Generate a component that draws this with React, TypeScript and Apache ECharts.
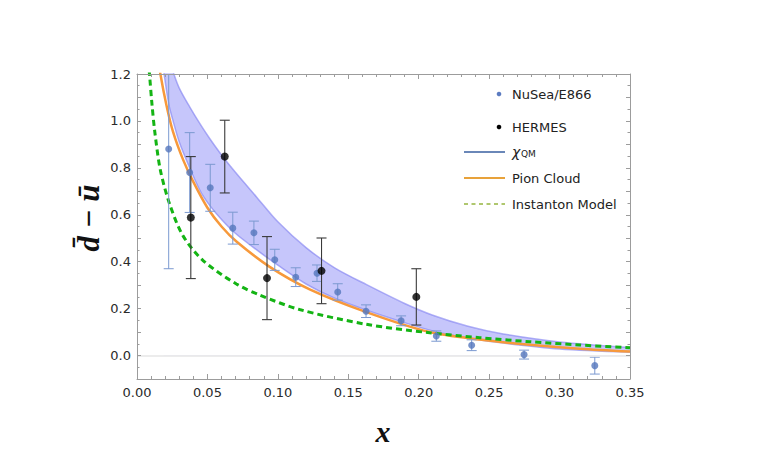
import React, { useEffect, useRef } from "react";
import * as echarts from "echarts";

// chi_QM band (lower / upper edges) on a common x grid
const bandX = [0.015, 0.019, 0.0227, 0.0256, 0.03, 0.0374, 0.045, 0.0516, 0.06, 0.07, 0.085, 0.1, 0.12, 0.14, 0.163, 0.19, 0.21, 0.235, 0.26, 0.3, 0.35];
const bandLow = [1.38, 1.209, 1.067, 1.0, 0.91, 0.8, 0.7, 0.64, 0.58, 0.52, 0.45, 0.385, 0.305, 0.245, 0.193, 0.14, 0.105, 0.075, 0.053, 0.028, 0.014];
const bandHigh = [1.5, 1.38, 1.27, 1.21, 1.14, 1.06, 0.985, 0.925, 0.855, 0.78, 0.675, 0.57, 0.46, 0.375, 0.302, 0.222, 0.172, 0.125, 0.092, 0.058, 0.034];

// Pion Cloud curve
const pionX = [0.015, 0.0166, 0.0209, 0.0256, 0.0327, 0.04, 0.05, 0.06, 0.0706, 0.0942, 0.1226, 0.1628, 0.2078, 0.2433, 0.2787, 0.3142, 0.35];
const pionY = [1.27, 1.2, 1.067, 0.953, 0.835, 0.74, 0.63, 0.55, 0.486, 0.378, 0.282, 0.185, 0.1, 0.068, 0.046, 0.029, 0.017];

// Instanton Model curve
const instX = [0.008, 0.009, 0.0105, 0.0126, 0.0166, 0.0232, 0.0327, 0.0469, 0.0706, 0.0871, 0.1154, 0.1628, 0.2078, 0.2433, 0.2787, 0.3142, 0.35];
const instY = [1.26, 1.19, 1.08, 0.955, 0.79, 0.645, 0.51, 0.405, 0.305, 0.258, 0.196, 0.133, 0.097, 0.076, 0.059, 0.045, 0.033];

// NuSea/E866 data
const e866X = [0.0225, 0.0374, 0.052, 0.068, 0.083, 0.0978, 0.1127, 0.1278, 0.1425, 0.1626, 0.1875, 0.2125, 0.2376, 0.2748, 0.325];
const e866Y = [0.88, 0.78, 0.715, 0.543, 0.523, 0.408, 0.334, 0.351, 0.271, 0.189, 0.148, 0.083, 0.044, 0.004, -0.043];
const e866Err = [0.51, 0.17, 0.1, 0.068, 0.05, 0.045, 0.04, 0.035, 0.035, 0.027, 0.021, 0.022, 0.023, 0.019, 0.036];

// HERMES data
const hermesX = [0.0382, 0.0623, 0.0923, 0.131, 0.1983];
const hermesY = [0.588, 0.848, 0.33, 0.361, 0.25];
const hermesErr = [0.26, 0.155, 0.177, 0.14, 0.12];

const legendNames = ["NuSea/E866", "HERMES", "χ", "Pion Cloud", "Instanton Model"];

const FRAME = "#9c9c9c";
const TICKFONT = "DejaVu Sans";

function makeErr(xs: number[], ys: number[], errs: number[], color: string, lw: number) {
  return {
    type: "custom",
    z: 4,
    silent: true,
    data: xs.map((x, i) => [x, ys[i] - errs[i], ys[i] + errs[i]]),
    encode: { x: 0, y: [1, 2] },
    renderItem: (params: any, api: any) => {
      const x = api.value(0);
      const lo = api.value(1);
      const hi = api.value(2);
      const a = api.coord([x, lo]);
      const b = api.coord([x, hi]);
      const cs = params.coordSys;
      const topY = Math.max(b[1], cs.y);
      const hw = 5;
      const st = { stroke: color, lineWidth: lw };
      const children: any[] = [
        { type: "line", shape: { x1: a[0], y1: a[1], x2: a[0], y2: topY }, style: st },
        { type: "line", shape: { x1: a[0] - hw, y1: a[1], x2: a[0] + hw, y2: a[1] }, style: st },
      ];
      if (b[1] >= cs.y) {
        children.push({ type: "line", shape: { x1: a[0] - hw, y1: b[1], x2: a[0] + hw, y2: b[1] }, style: st });
      }
      return { type: "group", children };
    },
  };
}

function xAxisCfg(position: string, showLabel: boolean) {
  return {
    type: "value",
    min: 0,
    max: 0.35,
    interval: 0.05,
    position,
    z: 10,
    axisLine: { show: true, onZero: false, lineStyle: { color: FRAME, width: 1 } },
    axisTick: { show: true, inside: true, length: 5, lineStyle: { color: FRAME } },
    minorTick: { show: true, splitNumber: 5, length: 3, lineStyle: { color: FRAME } },
    axisLabel: {
      show: showLabel,
      formatter: (v: number) => v.toFixed(2),
      color: "#2a2a2a",
      fontSize: 13,
      fontFamily: TICKFONT,
      margin: 7,
    },
    splitLine: { show: false },
    minorSplitLine: { show: false },
  };
}

function yAxisCfg(position: string, showLabel: boolean) {
  return {
    type: "value",
    min: -0.1,
    max: 1.2,
    interval: 0.1,
    position,
    z: 10,
    axisLine: { show: true, onZero: false, lineStyle: { color: FRAME, width: 1 } },
    axisTick: { show: true, inside: true, length: 4, lineStyle: { color: FRAME } },
    minorTick: { show: true, splitNumber: 2, length: 2.5, lineStyle: { color: FRAME } },
    axisLabel: {
      show: showLabel,
      formatter: (v: number) => {
        const k = Math.round(v * 10);
        return k % 2 === 0 ? v.toFixed(1) : "";
      },
      color: "#2a2a2a",
      fontSize: 13,
      fontFamily: TICKFONT,
      margin: 6,
    },
    splitLine: { show: false },
    minorSplitLine: { show: false },
  };
}

export default function App() {
  const ref = useRef<HTMLDivElement>(null);
  useEffect(() => {
    if (!ref.current) return;
    const chart = echarts.init(ref.current, undefined, { renderer: "svg" });
    const smooth = 0.3;
    const lx1 = 464, lx2 = 505, tx = 512;
    const rows = [94, 127, 152, 178, 204];
    const legendFont = { fontSize: 13, fontFamily: TICKFONT, fill: "#222", align: "left", verticalAlign: "middle" };
    const edgeStyle = { color: "rgba(125,125,240,0.6)", width: 1.5 };
    // the upper fill starts one grid step later, so its left edge stays hidden under the white mask
    const highData = bandX.map((x, i) => [x, bandHigh[i]]).slice(1);
    chart.setOption({
      animation: false,
      backgroundColor: "#ffffff",
      grid: { left: 137, top: 74, right: 133, bottom: 79, containLabel: false },
      xAxis: [xAxisCfg("bottom", true), xAxisCfg("top", false)],
      yAxis: [yAxisCfg("left", true), yAxisCfg("right", false)],
      series: [
        {
          // upper edge of the chi_QM band, filled down to zero
          type: "line",
          name: "bandHigh",
          data: highData,
          symbol: "none",
          smooth,
          lineStyle: edgeStyle,
          areaStyle: { color: "rgba(120,120,245,0.42)", opacity: 1, origin: "auto" },
          z: 1,
          silent: true,
        },
        {
          // lower edge: white mask below it so only the band stays filled
          type: "line",
          name: "bandLow",
          data: bandX.map((x, i) => [x, bandLow[i]]),
          symbol: "none",
          smooth,
          lineStyle: edgeStyle,
          areaStyle: { color: "#ffffff", opacity: 1, origin: "auto" },
          z: 2,
          silent: true,
        },
        {
          type: "line",
          name: legendNames[3],
          data: pionX.map((x, i) => [x, pionY[i]]),
          symbol: "none",
          smooth,
          lineStyle: { color: "#f7993b", width: 2.5 },
          z: 3,
          silent: true,
          markLine: {
            silent: true,
            symbol: ["none", "none"],
            label: { show: false },
            lineStyle: { color: "#e6e6e6", width: 1.5, type: "solid" },
            data: [{ yAxis: 0 }],
          },
        },
        {
          type: "line",
          name: legendNames[4],
          data: instX.map((x, i) => [x, instY[i]]),
          symbol: "none",
          smooth,
          lineStyle: { color: "#14b414", width: 3, type: [6, 4] },
          z: 3,
          silent: true,
        },
        makeErr(e866X, e866Y, e866Err, "#7b99d0", 1),
        makeErr(hermesX, hermesY, hermesErr, "#3a3a3a", 1.1),
        {
          type: "scatter",
          name: legendNames[0],
          data: e866X.map((x, i) => [x, e866Y[i]]),
          symbol: "circle",
          symbolSize: 7,
          itemStyle: { color: "#5577bd" },
          z: 5,
          silent: true,
        },
        {
          type: "scatter",
          name: legendNames[1],
          data: hermesX.map((x, i) => [x, hermesY[i]]),
          symbol: "circle",
          symbolSize: 8,
          itemStyle: { color: "#000000" },
          z: 5,
          silent: true,
        },
      ],
      graphic: [
        { type: "circle", shape: { cx: 499, cy: rows[0], r: 2.3 }, style: { fill: "#5b7bc0" } },
        { type: "text", x: tx, y: rows[0], style: { ...legendFont, text: legendNames[0] } },
        { type: "circle", shape: { cx: 499, cy: rows[1], r: 2.3 }, style: { fill: "#000" } },
        { type: "text", x: tx, y: rows[1], style: { ...legendFont, text: legendNames[1] } },
        { type: "line", shape: { x1: lx1, y1: rows[2], x2: lx2, y2: rows[2] }, style: { stroke: "#6a87b8", lineWidth: 2 } },
        { type: "text", x: tx, y: rows[2], style: { ...legendFont, text: legendNames[2], fontStyle: "italic", fontSize: 14 } },
        { type: "text", x: tx + 9, y: rows[2] + 2, style: { ...legendFont, text: "QM", fontSize: 9 } },
        { type: "line", shape: { x1: lx1, y1: rows[3], x2: lx2, y2: rows[3] }, style: { stroke: "#e8a23a", lineWidth: 2 } },
        { type: "text", x: tx, y: rows[3], style: { ...legendFont, text: legendNames[3] } },
        { type: "line", shape: { x1: lx1, y1: rows[4], x2: lx2, y2: rows[4] }, style: { stroke: "#95b53f", lineWidth: 1.5, lineDash: [4, 3.5] } },
        { type: "text", x: tx, y: rows[4], style: { ...legendFont, text: legendNames[4] } },
        {
          type: "text",
          x: 88,
          y: 218,
          rotation: Math.PI / 2,
          style: {
            text: "d\u0304 \u2212 u\u0304",
            fontSize: 31,
            fontWeight: "bold",
            fontStyle: "italic",
            fontFamily: "Liberation Serif",
            fill: "#111",
            align: "center",
            verticalAlign: "middle",
          },
        },
        {
          type: "text",
          x: 383,
          y: 431,
          style: {
            text: "x",
            fontSize: 30,
            fontWeight: "bold",
            fontStyle: "italic",
            fontFamily: "Liberation Serif",
            fill: "#111",
            align: "center",
            verticalAlign: "middle",
          },
        },
      ],
    });
    return () => chart.dispose();
  }, []);
  return <div ref={ref} style={{ position: "absolute", left: 0, top: 0, width: 763, height: 458 }} />;
}
